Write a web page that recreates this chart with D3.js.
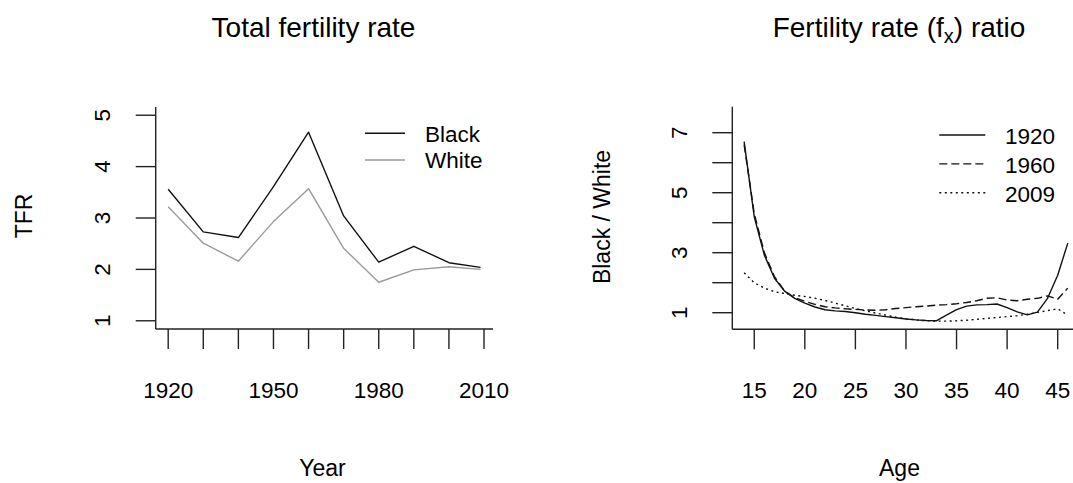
<!DOCTYPE html>
<html>
<head>
<meta charset="utf-8">
<script src="https://cdn.jsdelivr.net/npm/d3@7/dist/d3.min.js"></script>
<style>
  body { margin: 0; background: #fff; }
  svg { display: block; }
  text { font-family: "Liberation Sans", Arial, Helvetica, sans-serif; fill: #000; }
</style>
</head>
<body>
<svg id="chart" width="1073" height="483"></svg>
<script>
// ---- Total fertility rate by race ----
const tfrYears = [1920, 1930, 1940, 1950, 1960, 1970, 1980, 1990, 2000, 2009];
const tfrBlack = [3.56, 2.73, 2.62, 3.61, 4.67, 3.04, 2.14, 2.45, 2.13, 2.04];
const tfrWhite = [3.22, 2.51, 2.16, 2.93, 3.57, 2.41, 1.75, 1.99, 2.05, 2.00];
const tfrSeriesNames = ["Black", "White"];
const tfrYearTicks = [1920, 1930, 1940, 1950, 1960, 1970, 1980, 1990, 2000, 2010];
const tfrYearLabels = [1920, 1950, 1980, 2010];
const tfrValueTicks = [1, 2, 3, 4, 5];

// ---- Black / White age-specific fertility ratio ----
const ages = [14, 15, 16, 17, 18, 19, 20, 21, 22, 23, 24, 25, 26, 27, 28, 29, 30,
              31, 32, 33, 34, 35, 36, 37, 38, 39, 40, 41, 42, 43, 44, 45, 46];
const ratio1920 = [6.70, 4.20, 2.92, 2.15, 1.72, 1.48, 1.32, 1.19, 1.10, 1.06, 1.04, 1.00, 0.95,
                   0.91, 0.87, 0.83, 0.79, 0.76, 0.74, 0.73, 0.92, 1.10, 1.22, 1.26, 1.27, 1.29,
                   1.17, 1.03, 0.93, 1.02, 1.48, 2.25, 3.32];
const ratio1960 = [6.60, 4.30, 3.00, 2.20, 1.72, 1.50, 1.38, 1.28, 1.20, 1.16, 1.13, 1.11, 1.09,
                   1.08, 1.10, 1.14, 1.17, 1.20, 1.22, 1.25, 1.27, 1.30, 1.34, 1.40, 1.48, 1.50,
                   1.42, 1.40, 1.45, 1.48, 1.56, 1.45, 1.82];
const ratio2009 = [2.33, 2.00, 1.82, 1.70, 1.64, 1.58, 1.54, 1.48, 1.41, 1.32, 1.23, 1.14, 1.06,
                   0.99, 0.92, 0.85, 0.80, 0.76, 0.73, 0.72, 0.72, 0.73, 0.75, 0.78, 0.81, 0.84,
                   0.87, 0.90, 0.95, 1.01, 1.07, 1.13, 0.92];
const ratioSeriesNames = ["1920", "1960", "2009"];
const ageTicks = [15, 20, 25, 30, 35, 40, 45];
const ratioTicks = [1, 2, 3, 4, 5, 6, 7];
const ratioLabels = [1, 3, 5, 7];

const svg = d3.select("#chart");
const FONT = 22.5;
const TICK = 20;
const AXIS_COLOR = "#222";

// Draws an R-style L-shaped frame with outward ticks and rotated y labels.
function drawFrame(g, box, x, y, xt, xl, yt, yl) {
  g.append("line")
    .attr("x1", box.left).attr("x2", box.left)
    .attr("y1", box.top).attr("y2", box.bottom)
    .attr("stroke", AXIS_COLOR).attr("stroke-width", 1.4);
  g.append("line")
    .attr("x1", box.left).attr("x2", box.right)
    .attr("y1", box.bottom).attr("y2", box.bottom)
    .attr("stroke", AXIS_COLOR).attr("stroke-width", 1.4);

  g.selectAll(null).data(xt).enter().append("line")
    .attr("x1", d => x(d)).attr("x2", d => x(d))
    .attr("y1", box.bottom).attr("y2", box.bottom + TICK)
    .attr("stroke", AXIS_COLOR).attr("stroke-width", 1.4);
  g.selectAll(null).data(xl).enter().append("text")
    .attr("x", d => x(d)).attr("y", box.bottom + 69)
    .attr("text-anchor", "middle").attr("font-size", FONT)
    .text(d => d);

  g.selectAll(null).data(yt).enter().append("line")
    .attr("x1", box.left - TICK).attr("x2", box.left)
    .attr("y1", d => y(d)).attr("y2", d => y(d))
    .attr("stroke", AXIS_COLOR).attr("stroke-width", 1.4);
  g.selectAll(null).data(yl).enter().append("text")
    .attr("transform", d => `translate(${box.left - 45.5},${y(d)}) rotate(-90)`)
    .attr("text-anchor", "middle").attr("font-size", FONT)
    .text(d => d);
}

// ---------- Left panel ----------
{
  const box = { left: 155.7, right: 493, top: 107, bottom: 329 };
  const x = d3.scaleLinear().domain([1916.44, 2012.56]).range([box.left, box.right]);
  const y = d3.scaleLinear().domain([0.84, 5.16]).range([box.bottom, box.top]);
  const g = svg.append("g");
  drawFrame(g, box, x, y, tfrYearTicks, tfrYearLabels, tfrValueTicks, tfrValueTicks);

  const line = d3.line().x(d => x(d[0])).y(d => y(d[1]));
  const series = [
    { name: tfrSeriesNames[0], values: tfrBlack, color: "#111" },
    { name: tfrSeriesNames[1], values: tfrWhite, color: "#9a9a9a" }
  ];
  g.selectAll(null).data(series).enter().append("path")
    .attr("d", s => line(tfrYears.map((yr, i) => [yr, s.values[i]])))
    .attr("fill", "none").attr("stroke", s => s.color)
    .attr("stroke-width", 1.4).attr("stroke-linejoin", "round");

  const lg = g.append("g").attr("transform", "translate(365,133.3)");
  series.forEach((s, i) => {
    lg.append("line").attr("x1", 0).attr("x2", 40)
      .attr("y1", i * 26.7).attr("y2", i * 26.7)
      .attr("stroke", s.color).attr("stroke-width", 1.4);
    lg.append("text").attr("x", 60).attr("y", i * 26.7 + 8.5)
      .attr("font-size", FONT).text(s.name);
  });

  svg.append("text").attr("x", 313.5).attr("y", 37)
    .attr("text-anchor", "middle").attr("font-size", 28).text("Total fertility rate");
  svg.append("text").attr("x", 322.5).attr("y", 476)
    .attr("text-anchor", "middle").attr("font-size", 23).text("Year");
  svg.append("text").attr("transform", "translate(32,216) rotate(-90)")
    .attr("text-anchor", "middle").attr("font-size", 23).text("TFR");
}

// ---------- Right panel ----------
{
  const box = { left: 732.3, right: 1112, top: 106.7, bottom: 329.3 };
  const x = d3.scaleLinear().domain([12.83, 50.37]).range([box.left, box.right]);
  const y = d3.scaleLinear().domain([0.447, 7.867]).range([box.bottom, box.top]);
  const g = svg.append("g");
  drawFrame(g, box, x, y, ageTicks, ageTicks, ratioTicks, ratioLabels);

  const line = d3.line().x(d => x(d[0])).y(d => y(d[1]));
  const series = [
    { name: ratioSeriesNames[0], values: ratio1920, dash: null },
    { name: ratioSeriesNames[1], values: ratio1960, dash: "8,4" },
    { name: ratioSeriesNames[2], values: ratio2009, dash: "2,3.5" }
  ];
  g.selectAll(null).data(series).enter().append("path")
    .attr("d", s => line(ages.map((a, i) => [a, s.values[i]])))
    .attr("fill", "none").attr("stroke", "#111")
    .attr("stroke-width", 1.4).attr("stroke-dasharray", s => s.dash)
    .attr("stroke-linejoin", "round");

  const lg = g.append("g").attr("transform", "translate(939.3,135)");
  series.forEach((s, i) => {
    lg.append("line").attr("x1", 0).attr("x2", 46)
      .attr("y1", i * 28.85).attr("y2", i * 28.85)
      .attr("stroke", "#111").attr("stroke-width", 1.4)
      .attr("stroke-dasharray", s.dash);
    lg.append("text").attr("x", 65.7).attr("y", i * 28.85 + 9)
      .attr("font-size", FONT).text(s.name);
  });

  const t = svg.append("text").attr("x", 899).attr("y", 37)
    .attr("text-anchor", "middle").attr("font-size", 28);
  t.append("tspan").text("Fertility rate (f");
  t.append("tspan").attr("font-size", 20).attr("dy", 6).text("x");
  t.append("tspan").attr("dy", -6).text(") ratio");

  svg.append("text").attr("x", 899.5).attr("y", 476)
    .attr("text-anchor", "middle").attr("font-size", 23).text("Age");
  svg.append("text").attr("transform", "translate(610,217) rotate(-90)")
    .attr("text-anchor", "middle").attr("font-size", 23).text("Black / White");
}
</script>
</body>
</html>
